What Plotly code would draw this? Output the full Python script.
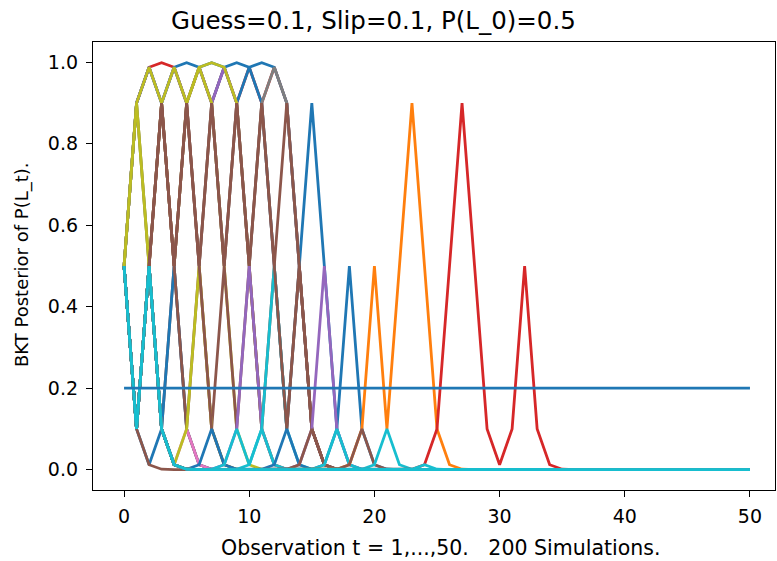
import plotly.graph_objects as go

# ---------------- data (posterior P(L_t) per simulation, t = 0..50) ----------------
obs_t = list(range(51))
x_tick_vals = [0, 10, 20, 30, 40, 50]
y_tick_vals = [0.0, 0.2, 0.4, 0.6, 0.8, 1.0]
reference_level = [0.2] * 51

sim_red_top = [0.5, 0.9, 0.988, 0.999, 0.988, 0.9, 0.988, 0.9, 0.988, 0.9, 0.988, 0.9, 0.988, 0.9, 0.5, 0.1, 0.012, 0.001, 0.0] + [0.0] * 32
sim_blue_top = [0.5, 0.9, 0.988, 0.9, 0.988, 0.999, 0.988, 0.999, 0.988, 0.999, 0.988, 0.999, 0.988, 0.9, 0.5, 0.1, 0.012, 0.001, 0.0] + [0.0] * 32
sim_blue_peak15 = [0.5, 0.9, 0.988, 0.9, 0.988, 0.9, 0.988, 0.9, 0.988, 0.9, 0.988, 0.9, 0.5, 0.1, 0.5, 0.9, 0.5, 0.1, 0.012, 0.001, 0.0] + [0.0] * 30
sim_purple_top = [0.5, 0.9, 0.988, 0.9, 0.988, 0.9, 0.988, 0.9, 0.988, 0.9, 0.5, 0.1, 0.012, 0.001, 0.0] + [0.0] * 36
sim_olive_top = [0.5, 0.9, 0.5, 0.9, 0.5, 0.9, 0.988, 0.999, 0.988, 0.9, 0.5, 0.1, 0.012, 0.001, 0.0] + [0.0] * 36
sim_olive_zig = [0.5, 0.9, 0.988, 0.9, 0.988, 0.9, 0.988, 0.9, 0.5, 0.1, 0.012, 0.001, 0.0] + [0.0] * 38
sim_gray_top = [0.5, 0.9, 0.5, 0.9, 0.5, 0.9, 0.5, 0.9, 0.5, 0.9, 0.5, 0.9, 0.988, 0.9, 0.5, 0.1, 0.012, 0.001, 0.0] + [0.0] * 32
sim_brown_low = [0.5, 0.1, 0.5, 0.1, 0.5, 0.1, 0.5, 0.1, 0.5, 0.1, 0.5, 0.1, 0.5, 0.1, 0.5, 0.1, 0.012, 0.001, 0.0] + [0.0] * 32
sim_brown_high = [0.5, 0.1, 0.5, 0.9, 0.5, 0.9, 0.5, 0.9, 0.5, 0.9, 0.5, 0.9, 0.5, 0.9, 0.5, 0.1, 0.012, 0.001, 0.0] + [0.0] * 32
sim_olive_start = [0.5, 0.9, 0.5, 0.1, 0.012, 0.001, 0.0] + [0.0] * 44
sim_blue_v3 = [0.5, 0.1, 0.012, 0.1, 0.5, 0.1, 0.012, 0.001, 0.0] + [0.0] * 42
sim_brown_t4 = [0.5, 0.1, 0.5, 0.9, 0.5, 0.1, 0.012, 0.001, 0.0] + [0.0] * 42
sim_brown_fast = [0.5, 0.1, 0.012, 0.001, 0.0] + [0.0] * 46
sim_pink_t5 = [0.5, 0.1, 0.5, 0.1, 0.012, 0.1, 0.012, 0.001, 0.0] + [0.0] * 42
sim_olive_t5 = [0.5, 0.1, 0.5, 0.1, 0.012, 0.1, 0.5, 0.1, 0.012, 0.001, 0.0] + [0.0] * 40
sim_brown_t6 = [0.5, 0.1, 0.5, 0.9, 0.5, 0.9, 0.5, 0.1, 0.012, 0.001, 0.0] + [0.0] * 40
sim_blue_t7 = [0.5, 0.1, 0.5, 0.1, 0.012, 0.001, 0.012, 0.1, 0.012, 0.001, 0.0] + [0.0] * 40
sim_purple_t10 = [0.5, 0.1, 0.5, 0.1, 0.012, 0.001, 0.0, 0.001, 0.012, 0.1, 0.5, 0.1, 0.012, 0.001, 0.0] + [0.0] * 36
sim_cyan_t12 = [0.5, 0.1, 0.5, 0.1, 0.012, 0.001, 0.0, 0.0, 0.0, 0.001, 0.012, 0.1, 0.5, 0.1, 0.012, 0.001, 0.0] + [0.0] * 34
sim_cyan_t9_t11 = [0.5, 0.1, 0.5, 0.1, 0.012, 0.001, 0.0, 0.001, 0.012, 0.1, 0.012, 0.1, 0.012, 0.001, 0.0] + [0.0] * 36
sim_brown_t13 = [0.5, 0.1, 0.5, 0.9, 0.5, 0.9, 0.5, 0.9, 0.5, 0.9, 0.5, 0.9, 0.5, 0.1, 0.5, 0.1, 0.012, 0.001, 0.0] + [0.0] * 32
sim_blue_t13 = [0.5, 0.1, 0.5, 0.1, 0.012, 0.001, 0.0, 0.0, 0.0, 0.0, 0.0, 0.001, 0.012, 0.1, 0.012, 0.001, 0.0] + [0.0] * 34
sim_blue_spike18 = [0.5, 0.1, 0.5, 0.1, 0.012, 0.001] + [0.0] * 9 + [0.001, 0.012, 0.1, 0.5, 0.1, 0.012, 0.001, 0.0] + [0.0] * 28
sim_purple_t16 = [0.5, 0.1, 0.5, 0.1, 0.012, 0.001] + [0.0] * 7 + [0.001, 0.012, 0.1, 0.5, 0.1, 0.012, 0.001, 0.0] + [0.0] * 30
sim_brown_t15 = [0.5, 0.1, 0.5, 0.1, 0.012, 0.001] + [0.0] * 7 + [0.001, 0.012, 0.1, 0.012, 0.001, 0.0] + [0.0] * 32
sim_cyan_t17 = [0.5, 0.1, 0.5, 0.1, 0.012, 0.001] + [0.0] * 9 + [0.001, 0.012, 0.1, 0.012, 0.001, 0.0] + [0.0] * 30
sim_orange_peak23 = [0.5, 0.1, 0.5, 0.1, 0.012, 0.001] + [0.0] * 11 + [0.001, 0.012, 0.1, 0.5, 0.1, 0.5, 0.9, 0.5, 0.1, 0.012, 0.001, 0.0] + [0.0] * 22
sim_brown_t19 = [0.5, 0.1, 0.5, 0.1, 0.012, 0.001] + [0.0] * 11 + [0.001, 0.012, 0.1, 0.012, 0.001, 0.0] + [0.0] * 28
sim_cyan_t21 = [0.5, 0.1, 0.5, 0.1, 0.012, 0.001] + [0.0] * 13 + [0.001, 0.012, 0.1, 0.012, 0.001, 0.0] + [0.0] * 26
sim_red_peak27 = [0.5, 0.1, 0.5, 0.1, 0.012, 0.001] + [0.0] * 17 + [0.001, 0.012, 0.1, 0.5, 0.9, 0.5, 0.1, 0.012, 0.1, 0.5, 0.1, 0.012, 0.001, 0.0] + [0.0] * 14
sim_cyan_t24 = [0.5, 0.1, 0.5, 0.1, 0.012, 0.001] + [0.0] * 17 + [0.001, 0.012, 0.001, 0.0] + [0.0] * 24
sim_cyan_fast = [0.5, 0.1, 0.5, 0.1, 0.012, 0.001] + [0.0] * 45

# drawing order (later = on top) and colours (matplotlib tab10)
simulations = [
    (sim_red_top, "#d62728"),
    (sim_blue_top, "#1f77b4"),
    (sim_blue_peak15, "#1f77b4"),
    (sim_purple_top, "#9467bd"),
    (sim_olive_top, "#bcbd22"),
    (sim_olive_zig, "#bcbd22"),
    (sim_gray_top, "#7f7f7f"),
    (sim_brown_low, "#8c564b"),
    (sim_brown_high, "#8c564b"),
    (sim_olive_start, "#bcbd22"),
    (sim_blue_v3, "#1f77b4"),
    (sim_brown_t4, "#8c564b"),
    (sim_brown_fast, "#8c564b"),
    (sim_pink_t5, "#e377c2"),
    (sim_olive_t5, "#bcbd22"),
    (sim_brown_t6, "#8c564b"),
    (sim_blue_t7, "#1f77b4"),
    (sim_purple_t10, "#9467bd"),
    (sim_cyan_t12, "#17becf"),
    (sim_cyan_t9_t11, "#17becf"),
    (sim_brown_t13, "#8c564b"),
    (sim_blue_t13, "#1f77b4"),
    (sim_blue_spike18, "#1f77b4"),
    (sim_purple_t16, "#9467bd"),
    (sim_brown_t15, "#8c564b"),
    (sim_cyan_t17, "#17becf"),
    (sim_orange_peak23, "#ff7f0e"),
    (sim_brown_t19, "#8c564b"),
    (sim_cyan_t21, "#17becf"),
    (sim_red_peak27, "#d62728"),
    (sim_cyan_t24, "#17becf"),
    (sim_cyan_fast, "#17becf"),
]

fig = go.Figure()
for vals, col in simulations:
    fig.add_trace(go.Scatter(
        x=obs_t[:len(vals)], y=vals, mode="lines",
        line=dict(color=col, width=2.8), showlegend=False, hoverinfo="skip"))

fig.add_trace(go.Scatter(
    x=obs_t, y=reference_level, mode="lines",
    line=dict(color="#1f77b4", width=2.8), showlegend=False, hoverinfo="skip"))

FONT = "DejaVu Sans"
TXT = "#000000"
axis_common = dict(
    showline=True, mirror=True, linecolor="black", linewidth=1.3,
    ticks="outside", ticklen=6, tickwidth=1.3, tickcolor="black",
    showgrid=False, zeroline=False, automargin=False,
    tickfont=dict(family=FONT, size=19, color=TXT),
)

ML, MR, MT, MB = 93, 2, 42, 71
fig.update_layout(
    width=777, height=561,
    margin=dict(l=ML, r=MR, t=MT, b=MB),
    paper_bgcolor="white", plot_bgcolor="white",
    xaxis=dict(range=[-2.48, 52.0], tickvals=x_tick_vals, ticklabelstandoff=3, **axis_common),
    yaxis=dict(range=[-0.05, 1.05], tickvals=y_tick_vals, tickformat=".1f",
               ticklabelstandoff=4, **axis_common),
    annotations=[
        dict(text="Guess=0.1, Slip=0.1, P(L_0)=0.5", x=373, y=20, xref="paper", yref="paper",
             showarrow=False, font=dict(family=FONT, size=24.5, color=TXT),
             xanchor="center", yanchor="middle"),
        dict(text="Observation t = 1,...,50.   200 Simulations.", x=440, y=548,
             xref="paper", yref="paper", showarrow=False,
             font=dict(family=FONT, size=20.5, color=TXT), xanchor="center", yanchor="middle"),
        dict(text="BKT Posterior of P(L_t).", x=22, y=265, xref="paper", yref="paper",
             showarrow=False, textangle=-90,
             font=dict(family=FONT, size=18, color=TXT), xanchor="center", yanchor="middle"),
    ],
)

# convert pixel positions of the text annotations to paper coordinates
pw, ph = 777 - ML - MR, 561 - MT - MB
for ann in fig.layout.annotations:
    ann.x = (ann.x - ML) / pw
    ann.y = 1 - (ann.y - MT) / ph

fig.write_html("out.html", config={"displayModeBar": False},
               post_script="document.body.style.margin='0px';")
